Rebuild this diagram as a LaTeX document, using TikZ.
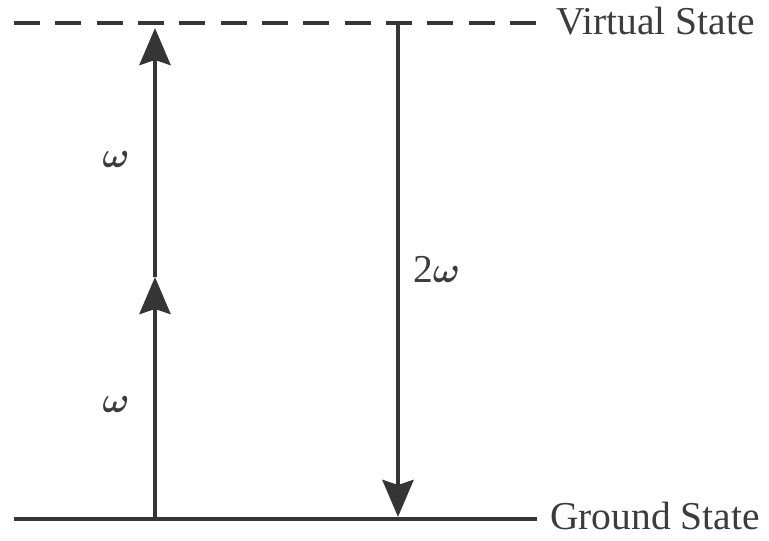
\documentclass[tikz,border=0pt]{standalone}
\usepackage{graphicx}
\usepackage{fontspec}
\setmainfont{Liberation Serif}
\usetikzlibrary{arrows.meta}
\definecolor{ink}{HTML}{353535}
\definecolor{txt}{HTML}{3C3C3C}
\tikzset{
  level/.style={line width=4.5pt, draw=ink},
  virtuallevel/.style={level, dash pattern=on 26pt off 15.33pt},
  transition/.style={line width=4.5pt, draw=ink,
    -{Stealth[length=37pt, width=31pt, inset=5pt, fill=ink]}},
  lbl/.style={text=txt, inner sep=0pt, font=\fontsize{39.5}{42}\selectfont},
}
% italic omega, enlarged from the 10pt math font
\newcommand{\freq}{{\fontsize{10}{12}\selectfont\boldmath\scalebox{3.6}{$\omega$}}}
\begin{document}
\begin{tikzpicture}[x=1pt, y=1pt]
  \useasboundingbox (0,0) rectangle (769,541);
  % energy levels
  \coordinate (gL) at (14,22);
  \coordinate (gR) at (537,22);
  \coordinate (vL) at (14,518);
  \coordinate (vR) at (536,518);
  \draw[level] (gL) -- (gR);
  \draw[virtuallevel] (vL) -- (vR);
  \node[lbl, anchor=base west] (gs) at (550,11) {Ground State};
  \node[lbl, anchor=base west] (vs) at (556,506) {Virtual State};
  % two-photon absorption
  \coordinate (a0) at (155,22);
  \coordinate (a1) at (155,264);
  \coordinate (a2) at (155,513);
  \draw[transition] (a0) -- (a1);
  \draw[transition] (a1) -- (a2);
  \node[lbl] (w1) at (116,136) {\freq};
  \node[lbl] (w2) at (116,381) {\freq};
  % second-harmonic emission
  \coordinate (e0) at (398,518);
  \coordinate (e1) at (398,24);
  \draw[transition] (e0) -- (e1);
  \node[lbl, anchor=base west] (w3) at (413,258) {2\freq};
\end{tikzpicture}
\end{document}
